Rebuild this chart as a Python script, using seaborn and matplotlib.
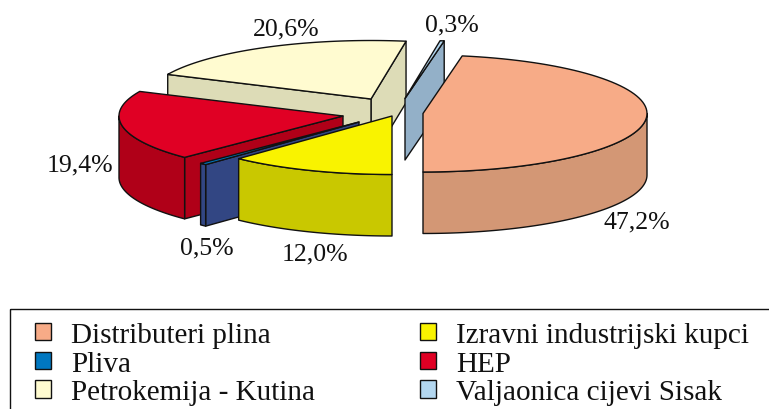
import numpy as np
import matplotlib
matplotlib.use("Agg")
import matplotlib.pyplot as plt
from matplotlib.patches import Patch, Polygon, Rectangle
import seaborn as sns

# slices in the order they go round the pie, starting from straight down
names = ["Distributeri plina", "Valjaonica cijevi Sisak", "Petrokemija - Kutina",
         "HEP", "Pliva", "Izravni industrijski kupci"]
shares = [47.2, 0.3, 20.6, 19.4, 0.5, 12.0]
labels = ["47,2%", "0,3%", "20,6%", "19,4%", "0,5%", "12,0%"]
top_colors = ["#f7ab87", "#b3d7f0", "#fffbd0", "#e00024", "#0077c0", "#f9f300"]
side_colors = ["#d39775", "#93b0c8", "#dddcb7", "#b00018", "#324683", "#c9c800"]

# where each exploded slice has its tip, in pixels
tips = [(423, 114.5), (405, 99.5), (371, 100), (343, 117), (359, 123), (392, 117)]
label_pos = [(637, 222), (452, 25), (286, 29), (80, 165), (207, 248), (315, 254)]
legend_order = [0, 4, 2, 5, 3, 1]  # filled column by column

rx, ry, depth = 224, 58.5, 61.5
ink = "#111111"

sns.set_theme(style="white")
plt.rcParams["font.family"] = ["Liberation Serif", "DejaVu Serif"]

fig = plt.figure(figsize=(7.69, 4.10), dpi=100)
ax = fig.add_axes([0, 0, 1, 1])
ax.set_xlim(0, 769)
ax.set_ylim(410, 0)
ax.axis("off")


def rim(cx, cy, a0, a1, drop=0):
    t = np.radians(np.linspace(a0, a1, 80))
    return np.column_stack([cx + rx * np.cos(t), cy - ry * np.sin(t) + drop])


def poly(pts, color, z):
    ax.add_patch(Polygon(pts, closed=True, facecolor=color, edgecolor=ink,
                         linewidth=1.0, joinstyle="round", zorder=z))


edges = -90 + np.concatenate([[0], np.cumsum(shares)]) * 3.6
# back slices first so the nearer ones cover them
draw_order = [2, 1, 3, 4, 5, 0]
for z, i in enumerate(draw_order):
    cx, cy = tips[i]
    a0, a1 = edges[i], edges[i + 1]
    z = z * 10 + 2
    # cut faces that turn towards the viewer
    for a, normal in [(a0, a0 - 90), (a1, a1 + 90)]:
        if np.sin(np.radians(normal)) < -0.01:
            p = rim(cx, cy, a, a)[0]
            poly([(cx, cy), p, (p[0], p[1] + depth), (cx, cy + depth)], side_colors[i], z)
    # outer wall, only the front half of the ellipse shows
    lo, hi = a0, a1
    if lo < 0:
        lo, hi = lo + 360, hi + 360
    lo2, hi2 = max(lo, 180), min(hi, 360)
    if hi2 > lo2:
        upper = rim(cx, cy, lo2, hi2)
        lower = rim(cx, cy, lo2, hi2, depth)
        poly(np.vstack([upper, lower[::-1]]), side_colors[i], z + 1)
    # top
    poly(np.vstack([[(cx, cy)], rim(cx, cy, a0, a1)]), top_colors[i], z + 2)

for txt, (x, y) in zip(labels, label_pos):
    ax.text(x, y, txt, ha="center", va="center", fontsize=18.5, color=ink, zorder=100)

ax.add_patch(Rectangle((9.5, 309.5), 800, 150, fill=False, edgecolor=ink,
                       linewidth=1.0, zorder=90))
handles = [Patch(facecolor=top_colors[i], edgecolor=ink, linewidth=1.0) for i in legend_order]
ax.legend(handles, [names[i] for i in legend_order], ncol=2, frameon=False,
          loc="upper left", bbox_to_anchor=(35 / 769, 1 - 323 / 410),
          borderaxespad=0, borderpad=0, fontsize=21, handlelength=0.55, handleheight=0.55,
          handletextpad=0.68, labelspacing=0.09, columnspacing=3.6, labelcolor=ink)

fig.savefig("out.png", dpi=100)
